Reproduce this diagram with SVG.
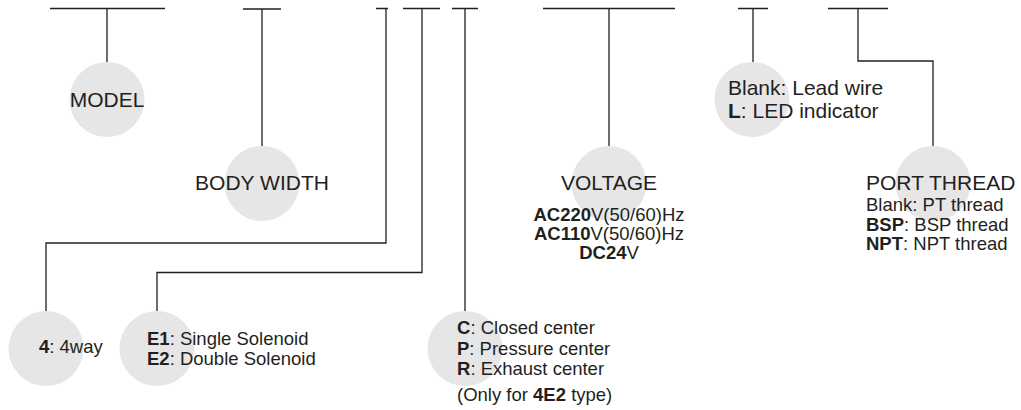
<svg xmlns="http://www.w3.org/2000/svg" width="1021" height="410" viewBox="0 0 1021 410">
<style>
.ln{fill:none;stroke:#231f20;stroke-width:1.3}
.c{fill:#e6e6e6}
text{font-family:"Liberation Sans",Arial,sans-serif;fill:#231f20}
.t{font-size:21px}
.s{font-size:18.5px}
.b{font-weight:bold}
</style>
<rect width="1021" height="410" fill="#fff"/>
<g id="circles">
<circle class="c" cx="107" cy="99.5" r="37.5"/>
<circle class="c" cx="262" cy="183.5" r="37.5"/>
<circle class="c" cx="609" cy="183.5" r="37.5"/>
<circle class="c" cx="752" cy="99.5" r="37.5"/>
<circle class="c" cx="933" cy="183.5" r="37.5"/>
<circle class="c" cx="46" cy="348.5" r="37.5"/>
<circle class="c" cx="157" cy="348.5" r="37.5"/>
<circle class="c" cx="465" cy="348.5" r="37.5"/>
</g>
<g id="connectors">
<path class="ln" d="M50 8.5H165M107 8.5V62"/>
<path class="ln" d="M243 9H281M262 9V146"/>
<path class="ln" d="M376 8.5H388M386 8.5V243H46V311"/>
<path class="ln" d="M403 8.5H440M422 8.5V272.5H157V311"/>
<path class="ln" d="M452 8.5H478M465 8.5V311"/>
<path class="ln" d="M543 8.5H675M609 8.5V146"/>
<path class="ln" d="M738 8.5H768M753 8.5V62"/>
<path class="ln" d="M828 8.5H888M858 8.5V61H933V146"/>
</g>
<g id="model"><text class="t" x="107" y="107" text-anchor="middle">MODEL</text></g>
<g id="body-width"><text class="t" x="262" y="190" text-anchor="middle">BODY WIDTH</text></g>
<g id="voltage">
<text class="t" x="609" y="190" text-anchor="middle">VOLTAGE</text>
<text class="s" x="609" y="220.5" text-anchor="middle"><tspan class="b">AC220</tspan>V(50/60)Hz</text>
<text class="s" x="609" y="239.5" text-anchor="middle"><tspan class="b">AC110</tspan>V(50/60)Hz</text>
<text class="s" x="609" y="258.5" text-anchor="middle"><tspan class="b">DC24</tspan>V</text>
</g>
<g id="led">
<text class="t" x="728" y="95">Blank: Lead wire</text>
<text class="t" x="728" y="118"><tspan class="b">L</tspan>: LED indicator</text>
</g>
<g id="port-thread">
<text class="t" x="866" y="190">PORT THREAD</text>
<text class="s" x="866" y="210.5">Blank: PT thread</text>
<text class="s" x="866" y="230.5"><tspan class="b">BSP</tspan>: BSP thread</text>
<text class="s" x="866" y="250"><tspan class="b">NPT</tspan>: NPT thread</text>
</g>
<g id="way"><text class="s" x="39" y="352.5"><tspan class="b">4</tspan>: 4way</text></g>
<g id="solenoid">
<text class="s" x="147" y="344.5"><tspan class="b">E1</tspan>: Single Solenoid</text>
<text class="s" x="147" y="365"><tspan class="b">E2</tspan>: Double Solenoid</text>
</g>
<g id="center">
<text class="s" x="457" y="333.5"><tspan class="b">C</tspan>: Closed center</text>
<text class="s" x="457" y="354.5"><tspan class="b">P</tspan>: Pressure center</text>
<text class="s" x="457" y="375"><tspan class="b">R</tspan>: Exhaust center</text>
<text class="s" x="457" y="401">(Only for <tspan class="b">4E2</tspan> type)</text>
</g>
</svg>
